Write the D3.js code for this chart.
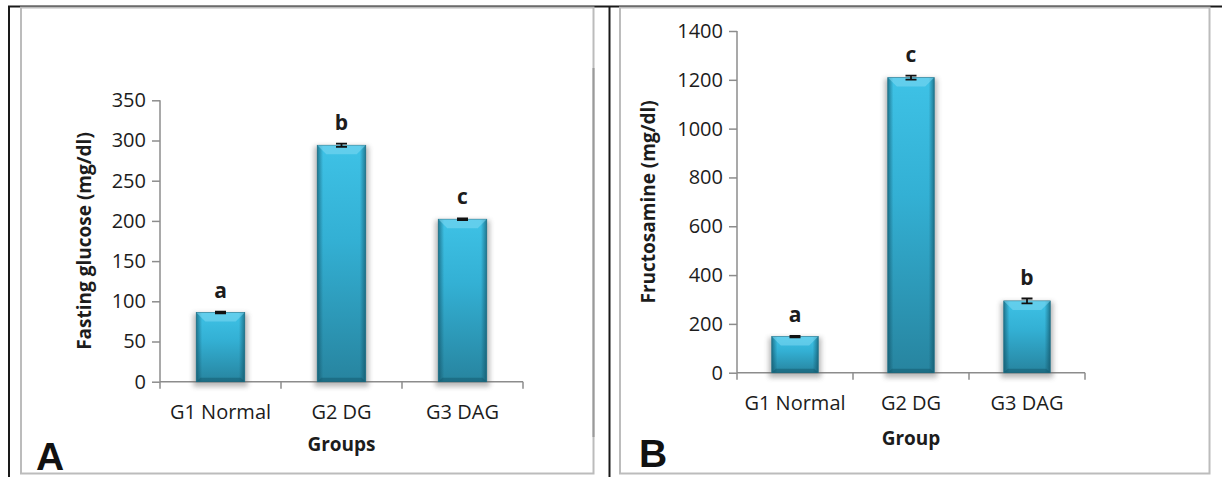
<!DOCTYPE html>
<html>
<head>
<meta charset="utf-8">
<title>Glucose and fructosamine</title>
<script src="https://d3js.org/d3.v7.min.js"></script>
<style>
  body { margin: 0; background: #fff; }
  svg text { font-family: 'Open Sans', sans-serif; fill: #1c1c1c; }
  .tick-label { font-size: 20px; }
  .axis-title { font-size: 19px; font-weight: bold; }
  .sig { font-size: 21px; font-weight: bold; }
  .panel-letter { font-family: 'Liberation Sans', Arial, sans-serif; font-size: 39px; font-weight: bold; fill: #111; }
</style>
</head>
<body>
<script>
// data
var groups = ["G1 Normal", "G2 DG", "G3 DAG"];

var glucoseMean = [86, 294, 202];
var glucoseErr = [1, 2, 1];
var glucoseLetters = ["a", "b", "c"];
var glucoseTicks = [0, 50, 100, 150, 200, 250, 300, 350];

var fructMean = [148, 1209, 294];
var fructErr = [3, 8, 10];
var fructLetters = ["a", "c", "b"];
var fructTicks = [0, 200, 400, 600, 800, 1000, 1200, 1400];

var W = 1222, H = 477;

var svg = d3.select("body").append("svg")
  .attr("width", W)
  .attr("height", H);

var defs = svg.append("defs");

var vg = defs.append("linearGradient").attr("id", "barV")
  .attr("x1", 0).attr("y1", 0).attr("x2", 0).attr("y2", 1);
vg.append("stop").attr("offset", "0%").attr("stop-color", "#3ec2e6");
vg.append("stop").attr("offset", "40%").attr("stop-color", "#33b0d4");
vg.append("stop").attr("offset", "100%").attr("stop-color", "#27849f");

var hg = defs.append("linearGradient").attr("id", "barH")
  .attr("x1", 0).attr("y1", 0).attr("x2", 1).attr("y2", 0);
hg.append("stop").attr("offset", "0%").attr("stop-color", "#0d4a5c").attr("stop-opacity", 0.6);
hg.append("stop").attr("offset", "12%").attr("stop-color", "#0d4a5c").attr("stop-opacity", 0);
hg.append("stop").attr("offset", "88%").attr("stop-color", "#0d4a5c").attr("stop-opacity", 0);
hg.append("stop").attr("offset", "100%").attr("stop-color", "#0d4a5c").attr("stop-opacity", 0.6);

var blur = defs.append("filter").attr("id", "shadow")
  .attr("x", "-30%").attr("y", "-10%").attr("width", "160%").attr("height", "130%");
blur.append("feGaussianBlur").attr("stdDeviation", 2.5);

// outer black rules
svg.append("line").attr("x1", 8).attr("x2", W).attr("y1", 6.5).attr("y2", 6.5)
  .attr("stroke", "#1a1a1a").attr("stroke-width", 2);
svg.append("line").attr("x1", 9).attr("x2", 9).attr("y1", 6).attr("y2", H)
  .attr("stroke", "#1a1a1a").attr("stroke-width", 2);
svg.append("line").attr("x1", 609.5).attr("x2", 609.5).attr("y1", 6).attr("y2", H)
  .attr("stroke", "#1a1a1a").attr("stroke-width", 2);

function drawPanel(cfg) {
  var g = svg.append("g");

  // light frame
  g.append("rect")
    .attr("x", cfg.frame[0]).attr("y", 7.5)
    .attr("width", cfg.frame[1] - cfg.frame[0]).attr("height", 466)
    .attr("fill", "none").attr("stroke", "#bcbcbc").attr("stroke-width", 2);

  var x = d3.scaleBand().domain(groups)
    .range(cfg.xRange).paddingInner(0.6).paddingOuter(0.3);
  var y = d3.scaleLinear().domain([0, cfg.ticks[cfg.ticks.length - 1]])
    .range(cfg.yRange);

  var data = groups.map(function (k, i) {
    return { group: k, mean: cfg.mean[i], err: cfg.err[i], letter: cfg.letters[i] };
  });

  // y axis
  var yAxis = g.append("g")
    .attr("transform", "translate(" + cfg.xRange[0] + ",0)")
    .call(d3.axisLeft(y).tickValues(cfg.ticks).tickFormat(d3.format("d"))
      .tickSize(8).tickPadding(6));
  yAxis.selectAll("path, line").attr("stroke", "#8c8c8c").attr("stroke-width", 1.5);
  yAxis.select(".domain").attr("d", "M0," + cfg.yRange[1] + "V" + cfg.yRange[0]);
  yAxis.selectAll("text").attr("class", "tick-label").attr("font-family", null)
    .attr("font-size", null).attr("fill", "#1c1c1c");
  yAxis.attr("font-family", null).attr("font-size", null);

  // x axis line and boundary ticks
  var xb = d3.range(groups.length + 1).map(function (i) {
    return cfg.xRange[0] + i * x.step();
  });
  g.append("line")
    .attr("x1", cfg.xRange[0]).attr("x2", cfg.xRange[1])
    .attr("y1", y(0)).attr("y2", y(0))
    .attr("stroke", "#8c8c8c").attr("stroke-width", 1.5);
  g.selectAll(".xtick").data(xb).enter().append("line")
    .attr("x1", function (d) { return d; }).attr("x2", function (d) { return d; })
    .attr("y1", y(0)).attr("y2", y(0) + 7)
    .attr("stroke", "#8c8c8c").attr("stroke-width", 1.5);

  g.selectAll(".xlab").data(groups).enter().append("text")
    .attr("class", "tick-label")
    .attr("x", function (d) { return x(d) + x.bandwidth() / 2; })
    .attr("y", cfg.xLabelY)
    .attr("text-anchor", "middle")
    .text(function (d) { return d; });

  // bars
  var bars = g.selectAll(".bar").data(data).enter().append("g");
  var bw = x.bandwidth();
  bars.append("rect")
    .attr("x", function (d) { return x(d.group) - 3; })
    .attr("y", function (d) { return y(d.mean) + 1; })
    .attr("width", bw + 6)
    .attr("height", function (d) { return y(0) - y(d.mean) + 4; })
    .attr("fill", "#666").attr("opacity", 0.45)
    .attr("filter", "url(#shadow)");
  bars.append("rect")
    .attr("x", function (d) { return x(d.group); })
    .attr("y", function (d) { return y(d.mean); })
    .attr("width", bw)
    .attr("height", function (d) { return y(0) - y(d.mean); })
    .attr("fill", "url(#barV)");
  bars.append("rect")
    .attr("x", function (d) { return x(d.group); })
    .attr("y", function (d) { return y(d.mean); })
    .attr("width", bw)
    .attr("height", function (d) { return y(0) - y(d.mean); })
    .attr("fill", "url(#barH)")
    .attr("stroke", "#1f6f86").attr("stroke-width", 0.8);
  // top bevel
  bars.append("path")
    .attr("d", function (d) {
      var x0 = x(d.group), x1 = x0 + bw, t = y(d.mean), b = 9;
      return "M" + x0 + "," + t + "L" + x1 + "," + t + "L" + (x1 - b) + "," + (t + b) +
        "L" + (x0 + b) + "," + (t + b) + "Z";
    })
    .attr("fill", "#7fd8f2").attr("opacity", 0.55);
  // bottom bevel
  bars.append("path")
    .attr("d", function (d) {
      var x0 = x(d.group), x1 = x0 + bw, t = y(0), b = 4;
      return "M" + x0 + "," + t + "L" + x1 + "," + t + "L" + (x1 - b) + "," + (t - b) +
        "L" + (x0 + b) + "," + (t - b) + "Z";
    })
    .attr("fill", "#12576b").attr("opacity", 0.5);

  // error bars
  var cap = 5.5;
  bars.append("path")
    .attr("d", function (d) {
      var cx = x(d.group) + bw / 2, lo = y(d.mean - d.err), hi = y(d.mean + d.err);
      return "M" + (cx - cap) + "," + hi + "H" + (cx + cap) +
        "M" + cx + "," + hi + "V" + lo +
        "M" + (cx - cap) + "," + lo + "H" + (cx + cap);
    })
    .attr("fill", "none").attr("stroke", "#111").attr("stroke-width", 1.8);

  // significance letters
  bars.append("text")
    .attr("class", "sig")
    .attr("x", function (d) { return x(d.group) + bw / 2; })
    .attr("y", function (d) { return y(d.mean + d.err) - 14; })
    .attr("text-anchor", "middle")
    .text(function (d) { return d.letter; });

  // axis titles
  g.append("text")
    .attr("class", "axis-title")
    .attr("transform", "translate(" + cfg.yTitleX + "," + (cfg.yRange[0] + cfg.yRange[1]) / 2 + ") rotate(-90)")
    .attr("text-anchor", "middle")
    .attr("dy", "0.35em")
    .text(cfg.yTitle);
  g.append("text")
    .attr("class", "axis-title")
    .attr("x", (cfg.xRange[0] + cfg.xRange[1]) / 2)
    .attr("y", cfg.xTitleY)
    .attr("text-anchor", "middle")
    .text(cfg.xTitle);

  g.append("text")
    .attr("class", "panel-letter")
    .attr("x", cfg.letterX).attr("y", cfg.letterY)
    .text(cfg.panel);
}

drawPanel({
  panel: "A",
  frame: [21, 593.5],
  xRange: [160, 523],
  yRange: [381.7, 100.3],
  ticks: glucoseTicks,
  mean: glucoseMean, err: glucoseErr, letters: glucoseLetters,
  yTitle: "Fasting glucose (mg/dl)", yTitleX: 84,
  xTitle: "Groups", xTitleY: 451,
  xLabelY: 419,
  letterX: 36, letterY: 470
});

drawPanel({
  panel: "B",
  frame: [620, 1209.5],
  xRange: [737, 1085],
  yRange: [372.7, 31],
  ticks: fructTicks,
  mean: fructMean, err: fructErr, letters: fructLetters,
  yTitle: "Fructosamine (mg/dl)", yTitleX: 648,
  xTitle: "Group", xTitleY: 445,
  xLabelY: 410,
  letterX: 639, letterY: 467
});

// darker stretch on the right edge of panel A frame
svg.append("line").attr("x1", 593.5).attr("x2", 593.5).attr("y1", 68).attr("y2", 437)
  .attr("stroke", "#9a9a9a").attr("stroke-width", 2);
</script>
</body>
</html>
